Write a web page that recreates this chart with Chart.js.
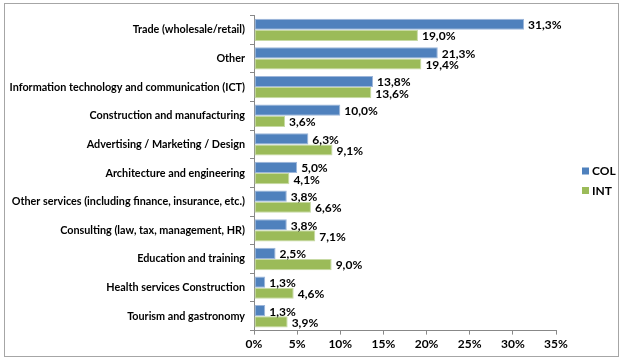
<!DOCTYPE html>
<html>
<head>
<meta charset="utf-8">
<script src="https://cdn.jsdelivr.net/npm/chart.js@4"></script>
<style>
  body { margin: 0; background: #fff; }
  #box { position: absolute; left: 4px; top: 3px; width: 613px; height: 352px; border: 1px solid #a6a6a6; }
  canvas { display: block; }
</style>
</head>
<body>
<div id="box"><canvas id="c" width="613" height="352"></canvas></div>
<script>
const categories = [
  'Trade (wholesale/retail)',
  'Other',
  'Information technology and communication (ICT)',
  'Construction and manufacturing',
  'Advertising / Marketing / Design',
  'Architecture and engineering',
  'Other services (including finance, insurance, etc.)',
  'Consulting (law, tax, management, HR)',
  'Education and training',
  'Health services Construction',
  'Tourism and gastronomy'
];
const colValues = [31.3, 21.3, 13.8, 10.0, 6.3, 5.0, 3.8, 3.8, 2.5, 1.3, 1.3];
const intValues = [19.0, 19.4, 13.6, 3.6, 9.1, 4.1, 6.6, 7.1, 9.0, 4.6, 3.9];

const FONT = 'Lato, "Open Sans", sans-serif';

// etiquetas de valor ao lado de cada barra
const valueLabels = {
  id: 'valueLabels',
  afterDatasetsDraw(chart) {
    const ctx = chart.ctx;
    ctx.save();
    ctx.font = 'bold 12px ' + FONT;
    ctx.fillStyle = '#000';
    ctx.textBaseline = 'middle';
    ctx.textAlign = 'left';
    chart.data.datasets.forEach(function (ds, i) {
      chart.getDatasetMeta(i).data.forEach(function (bar, j) {
        const txt = ds.data[j].toFixed(1).replace('.', ',') + '%';
        ctx.fillText(txt, bar.x + 4, bar.y + 1);
      });
    });
    ctx.restore();
  }
};

// legenda à direita, no estilo do Excel
const sideLegend = {
  id: 'sideLegend',
  afterDraw(chart) {
    const ctx = chart.ctx;
    const x = chart.chartArea.right + 26;
    const yMid = chart.height / 2;
    ctx.save();
    ctx.font = 'bold 12px ' + FONT;
    ctx.textBaseline = 'middle';
    ctx.textAlign = 'left';
    chart.data.datasets.forEach(function (ds, i) {
      const y = yMid - 9 + i * 19.5;
      ctx.fillStyle = ds.backgroundColor;
      ctx.fillRect(x, y - 3.5, 7, 7);
      ctx.fillStyle = '#000';
      ctx.fillText(ds.label, x + 10, y + 0.5);
    });
    ctx.restore();
  }
};

new Chart(document.getElementById('c').getContext('2d'), {
  type: 'bar',
  data: {
    labels: categories,
    datasets: [
      { label: 'COL', data: colValues, backgroundColor: '#4F81BD', borderColor: '#9DB6DA', borderWidth: 1, borderSkipped: false },
      { label: 'INT', data: intValues, backgroundColor: '#9BBB59', borderColor: '#C7DAA4', borderWidth: 1, borderSkipped: false }
    ]
  },
  options: {
    indexAxis: 'y',
    responsive: false,
    animation: false,
    categoryPercentage: 0.78,
    barPercentage: 1.0,
    layout: { padding: { top: 10, right: 62, bottom: 3, left: 0 } },
    plugins: {
      legend: { display: false },
      tooltip: { enabled: false }
    },
    scales: {
      x: {
        min: 0, max: 35,
        ticks: { stepSize: 5, color: '#000', font: { family: FONT, size: 12, weight: 'bold' }, callback: v => v + '%', padding: 2 },
        grid: { drawOnChartArea: false, color: '#888', tickLength: 4 },
        border: { color: '#888' }
      },
      y: {
        afterFit(scale) { scale.width = 249; },
        ticks: { color: '#000', font: { family: FONT, size: 10.8, weight: 'bold' }, padding: 5 },
        grid: { drawOnChartArea: false, offset: true, color: '#888', tickLength: 4 },
        border: { color: '#888' }
      }
    }
  },
  plugins: [valueLabels, sideLegend]
});
</script>
</body>
</html>
